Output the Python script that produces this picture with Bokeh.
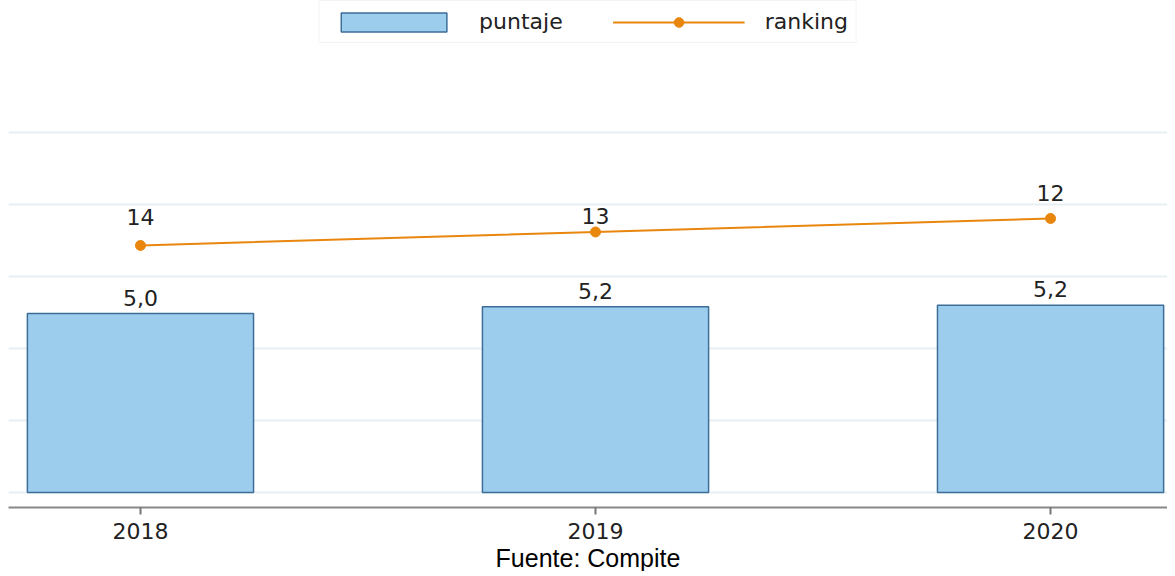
from bokeh.plotting import figure
from bokeh.models import (ColumnDataSource, Range1d, FixedTicker,
                          LabelSet, Title, Legend)
from bokeh.core.properties import value
from bokeh.embed import file_html
from bokeh.resources import INLINE

# ---- data ----
years = ["2018", "2019", "2020"]
puntaje = [4.97, 5.16, 5.2]
ranking = [14, 13, 12]
rank_label_offsets = [28, 16, 25]

BAR_FILL = "#9dcdec"
BAR_LINE = "#3c6e99"
ORANGE = "#e8860e"
GRID = "#e8eff2"
TEXT = "#222222"

xs = list(range(len(years)))
src = ColumnDataSource(dict(
    x=xs,
    puntaje=puntaje,
    p_lbl=[f"{v:.1f}".replace(".", ",") for v in puntaje],
    ranking=ranking,
    r_lbl=[str(r) for r in ranking],
    r_off=rank_label_offsets,
))

p = figure(frame_width=1159, frame_height=507, output_backend="svg",
           toolbar_location=None, x_range=Range1d(-0.29, 2.257),
           y_range=Range1d(-0.417, 13.667), y_axis_location=None,
           min_border_left=8, min_border_right=0, min_border_top=0,
           min_border_bottom=0)
p.extra_y_ranges = {"rank": Range1d(start=33.41, end=-4.148)}
p.outline_line_color = None
p.xgrid.visible = False

p.ygrid.ticker = FixedTicker(ticks=[0, 2, 4, 6, 8, 10])
p.ygrid.grid_line_color = GRID
p.ygrid.grid_line_width = 2

bars = p.vbar(x="x", top="puntaje", bottom=0, width=0.497, source=src,
              fill_color=BAR_FILL, line_color=BAR_LINE, line_width=1.5)
ln = p.line(x="x", y="ranking", source=src, y_range_name="rank",
            line_color=ORANGE, line_width=2)
pts = p.scatter(x="x", y="ranking", source=src, y_range_name="rank",
                size=10, fill_color=ORANGE, line_color=ORANGE)

p.add_layout(LabelSet(x="x", y="puntaje", text="p_lbl", source=src,
                      y_offset=16, text_align="center", text_baseline="middle",
                      text_font=value("DejaVu Sans"), text_font_size="22px",
                      text_color=TEXT))
p.add_layout(LabelSet(x="x", y="ranking", text="r_lbl", source=src,
                      y_range_name="rank", y_offset="r_off",
                      text_align="center", text_baseline="middle",
                      text_font=value("DejaVu Sans"), text_font_size="22px",
                      text_color=TEXT))

ax = p.xaxis[0]
ax.ticker = FixedTicker(ticks=xs)
ax.major_label_overrides = {i: y for i, y in enumerate(years)}
ax.axis_line_color = "#888888"
ax.axis_line_width = 2
ax.major_tick_line_color = "#777777"
ax.major_tick_line_width = 2
ax.major_tick_out = 7
ax.major_tick_in = 0
ax.minor_tick_line_color = None
ax.major_label_standoff = 8
ax.major_label_text_font = "DejaVu Sans"
ax.major_label_text_font_size = "22px"
ax.major_label_text_color = TEXT

legend = Legend(items=[("puntaje", [bars]), ("ranking", [ln, pts])],
                location="top_center", orientation="horizontal",
                glyph_width=132, glyph_height=24, label_standoff=20,
                spacing=50, padding=8, margin=0,
                label_text_font="DejaVu Sans", label_text_font_size="22px",
                label_text_color=TEXT, border_line_color="#e3e9ec",
                border_line_width=1, background_fill_alpha=1)
p.add_layout(legend, "center")

p.add_layout(Title(text="Fuente: Compite", align="center", text_font="Liberation Sans",
                   text_font_size="25px", text_font_style="normal",
                   text_color="#000000", standoff=0), "below")

open("out.html", "w").write(file_html(p, INLINE))
